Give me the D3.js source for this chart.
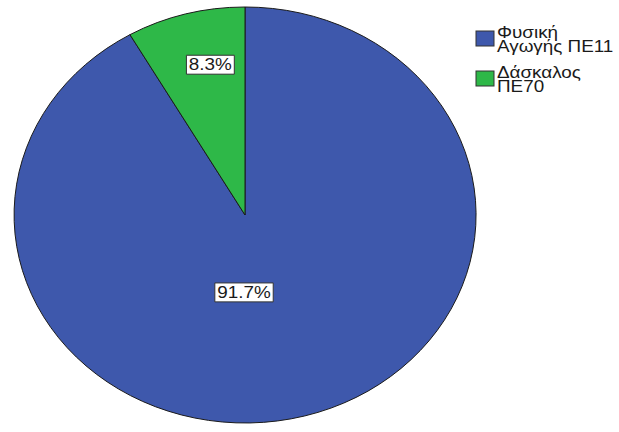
<!DOCTYPE html>
<html>
<head>
<meta charset="utf-8">
<script src="https://cdn.jsdelivr.net/npm/d3@7"></script>
<style>
  body { margin: 0; background: #fff; }
  text { font-family: "Liberation Sans", Arial, sans-serif; }
</style>
</head>
<body>
<svg id="chart" width="619" height="432"></svg>
<script>
// data
var categories = ["Φυσική Αγωγής ΠΕ11", "Δάσκαλος ΠΕ70"];
var legendLines = [["Φυσική", "Αγωγής ΠΕ11"], ["Δάσκαλος", "ΠΕ70"]];
var percents = [91.7, 8.3];
var colors = ["#3e58ac", "#2eb848"];

var svg = d3.select("#chart");
var cx = 245, cy = 215, rx = 231, ry = 208;
var stretch = 1.11; // picture is widened a bit, text too

// SPSS draws clockwise from 12 o'clock, big slice first
var pie = d3.pie().sort(null).value(function(d) { return d; });
var arcs = pie(percents);

var arc = d3.arc().innerRadius(0).outerRadius(1);

var g = svg.append("g")
    .attr("transform", "translate(" + cx + "," + cy + ") scale(" + rx + "," + ry + ")");

g.selectAll("path")
    .data(arcs)
    .enter().append("path")
    .attr("d", arc)
    .attr("fill", function(d, i) { return colors[i]; })
    .attr("stroke", "#1b1b1b")
    .attr("stroke-width", 1)
    .attr("vector-effect", "non-scaling-stroke");

// label positions, radius in unit-ellipse space
var labelR = [0.383, 0.75];
var labels = svg.selectAll(".lbl")
    .data(arcs)
    .enter().append("g")
    .attr("class", "lbl")
    .attr("transform", function(d, i) {
        var c = d3.arc().innerRadius(labelR[i]).outerRadius(labelR[i]).centroid(d);
        var x = cx + c[0] * rx, y = cy + c[1] * ry;
        if (i === 0) x = cx - 1; // big slice label sits on the centre line
        else x += 10;
        return "translate(" + x + "," + y + ") scale(" + stretch + ",1)";
    });

labels.append("text")
    .attr("text-anchor", "middle")
    .attr("dy", "0.36em")
    .style("font-size", "17px")
    .attr("fill", "#1a1a1a")
    .text(function(d) { return d.data.toFixed(1) + "%"; });

labels.each(function() {
    var t = d3.select(this).select("text");
    var b = t.node().getBBox();
    d3.select(this).insert("rect", "text")
        .attr("x", b.x - 2.2)
        .attr("y", b.y)
        .attr("width", b.width + 4.4)
        .attr("height", b.height)
        .attr("fill", "#fff")
        .attr("stroke", "#333")
        .attr("stroke-width", 1)
        .attr("vector-effect", "non-scaling-stroke");
});

// legend
var legend = svg.append("g").attr("transform", "translate(476,31)");
var items = legend.selectAll(".item")
    .data(categories)
    .enter().append("g")
    .attr("class", "item")
    .attr("transform", function(d, i) { return "translate(0," + (i * 40) + ")"; });

items.append("rect")
    .attr("width", 18)
    .attr("height", 15)
    .attr("fill", function(d, i) { return colors[i]; })
    .attr("stroke", "#333")
    .attr("stroke-width", 1);

items.append("g")
    .attr("transform", "translate(21,0) scale(" + stretch + ",1)")
    .append("text")
    .attr("y", 7)
    .style("font-size", "17px")
    .attr("fill", "#1a1a1a")
    .selectAll("tspan")
    .data(function(d, i) { return legendLines[i]; })
    .enter().append("tspan")
    .attr("x", 0)
    .attr("dy", function(d, j) { return j === 0 ? 0 : 14; })
    .text(function(d) { return d; });
</script>
</body>
</html>
